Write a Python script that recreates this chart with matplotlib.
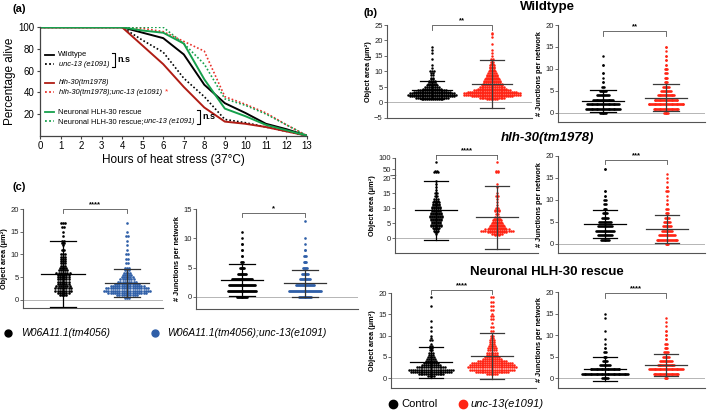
import numpy as np
import matplotlib.pyplot as plt
from matplotlib.lines import Line2D

# ---- (a) survival during heat stress ----
hours = [0, 1, 2, 3, 4, 5, 6, 7, 8, 9, 10, 11, 12, 13]
surv_wt = [100, 100, 100, 100, 100, 95, 90, 75, 47, 30, 21, 11, 6, 0]
surv_unc13 = [100, 100, 100, 100, 100, 88, 77, 53, 36, 15, 12, 8, 4, 0]
surv_hlh = [100, 100, 100, 100, 100, 83, 66, 45, 26, 13, 11, 8, 4, 0]
surv_hlh_unc13 = [100, 100, 100, 100, 100, 99, 96, 87, 78, 36, 29, 21, 10, 0]
surv_rescue = [100, 100, 100, 100, 100, 97, 95, 85, 52, 25, 18, 10, 5, 0]
surv_rescue_unc13 = [100, 100, 100, 100, 100, 100, 100, 85, 66, 34, 28, 20, 10, 0]

# ---- (b)/(c) object area: values and how many objects at each ----
wt_area_ctrl_v = [1.0, 1.5, 2.0, 2.5, 3.0, 3.5, 4.0, 4.5, 5.0, 5.5, 6.0, 6.5, 7.0, 7.5, 8.0, 9.0, 9.5, 10.0, 11.0, 12.0, 14.0, 16.0, 17.0, 18.0]
wt_area_ctrl_n = [12, 18, 24, 26, 24, 20, 16, 10, 8, 6, 5, 4, 4, 2, 2, 2, 2, 3, 1, 1, 1, 1, 1, 1]
wt_area_unc_v = [1.0, 1.5, 2.0, 2.5, 3.0, 3.5, 4.0, 4.5, 5.0, 5.5, 6.0, 6.5, 7.0, 7.5, 8.0, 8.5, 9.0, 9.5, 10.0, 10.5, 11.0, 11.5, 12.0, 12.5, 13.0, 14.0, 15.0, 16.0, 17.0, 19.0, 21.0, 22.0, 22.5]
wt_area_unc_n = [6, 14, 22, 30, 30, 26, 20, 16, 14, 12, 11, 9, 9, 8, 7, 6, 6, 5, 4, 3, 3, 3, 3, 2, 2, 2, 1, 1, 1, 1, 1, 1, 1]

hlh_area_ctrl_v = [1.5, 2, 2.5, 3, 3.5, 4, 4.5, 5, 5.5, 6, 6.5, 7, 7.5, 8, 8.5, 9, 9.5, 10, 10.5, 11, 11.5, 12, 12.5, 13, 14, 15, 16, 17, 18, 19, 35, 40, 80]
hlh_area_ctrl_n = [1, 2, 3, 3, 4, 6, 6, 5, 5, 6, 6, 7, 7, 6, 6, 5, 5, 5, 5, 4, 4, 4, 3, 3, 2, 2, 1, 1, 1, 1, 3, 2, 1]
hlh_area_unc_v = [1, 1.5, 2, 2.5, 3, 3.5, 4, 4.5, 5, 5.5, 6, 6.5, 7, 8, 9, 9.5, 10, 11, 12, 13, 14, 15, 17, 18, 35, 40, 80]
hlh_area_unc_n = [3, 6, 10, 16, 12, 9, 8, 7, 6, 5, 5, 4, 3, 2, 3, 3, 2, 1, 1, 1, 2, 1, 1, 1, 2, 2, 1]

res_area_ctrl_v = [0.5, 1, 1.5, 2, 2.5, 3, 3.5, 4, 4.5, 5, 5.5, 6, 6.5, 7, 7.5, 8, 9, 9.5, 10, 11, 12, 13.5, 17, 19]
res_area_ctrl_n = [4, 14, 22, 24, 16, 10, 8, 6, 5, 4, 3, 3, 2, 2, 2, 1, 2, 1, 1, 1, 1, 1, 1, 1]
res_area_unc_v = [1, 1.5, 2, 2.5, 3, 3.5, 4, 4.5, 5, 5.5, 6, 6.5, 7, 7.5, 8, 8.5, 9, 9.5, 10, 11, 12, 13, 14, 14.5, 15, 16, 17, 18, 19]
res_area_unc_n = [6, 18, 24, 26, 24, 22, 16, 10, 8, 6, 6, 5, 5, 4, 3, 3, 3, 2, 2, 2, 2, 1, 2, 2, 1, 2, 2, 2, 2]

w06_area_ctrl_v = [1, 1.5, 2, 2.5, 3, 3.5, 4, 4.5, 5, 5.5, 6, 6.5, 7, 7.5, 8, 8.5, 9, 9.5, 10, 11, 12, 12.5, 13, 14, 15, 16, 17]
w06_area_ctrl_n = [4, 6, 8, 8, 7, 6, 6, 6, 6, 6, 7, 5, 4, 3, 3, 3, 3, 3, 3, 2, 1, 2, 2, 1, 1, 2, 3]
w06_area_unc_v = [0.5, 1, 1.5, 2, 2.5, 3, 3.5, 4, 4.5, 5, 5.5, 6, 6.5, 7, 8, 9, 10, 11, 12, 13, 14, 15, 17]
w06_area_unc_n = [3, 10, 18, 22, 20, 16, 12, 9, 7, 6, 5, 4, 3, 3, 2, 2, 2, 1, 1, 1, 2, 1, 1]

# ---- junctions per network: counts for 0, 1, 2, ... junctions ----
wt_junc_ctrl = [8, 40, 38, 24, 14, 8, 3, 2, 1, 2, 0, 2, 0, 1]
wt_junc_unc = [6, 30, 42, 28, 20, 12, 8, 4, 4, 3, 4, 2, 2, 2, 1, 2]
hlh_junc_ctrl = [0, 10, 16, 20, 16, 14, 8, 6, 4, 3, 3, 2, 2, 0, 0, 0, 0, 2]
hlh_junc_unc = [4, 24, 18, 12, 10, 8, 5, 4, 3, 2, 1, 1, 3, 2, 1, 1, 1]
res_junc_ctrl = [8, 55, 35, 12, 6, 4, 3, 2, 1, 1, 0, 1, 0, 0, 1, 1]
res_junc_unc = [4, 30, 40, 20, 14, 8, 5, 4, 3, 2, 2, 2, 1, 1, 1]
w06_junc_ctrl = [12, 30, 28, 22, 10, 6, 3, 2, 2, 2, 1, 1]
w06_junc_unc = [14, 34, 20, 12, 8, 5, 4, 3, 2, 1, 1, 0, 0, 1]

# mean and SD (control, mutant)
wt_area_mean, wt_area_sd = [4.0, 6.0], [2.9, 7.7]
wt_junc_mean, wt_junc_sd = [2.7, 3.5], [2.5, 3.0]
hlh_area_mean, hlh_area_sd = [9.2, 6.9], [9.8, 10.5]
hlh_junc_mean, hlh_junc_sd = [4.5, 3.4], [3.2, 3.2]
res_area_mean, res_area_sd = [3.7, 5.2], [3.6, 5.4]
res_junc_mean, res_junc_sd = [2.2, 3.0], [2.8, 2.5]
w06_area_mean, w06_area_sd = [5.7, 3.7], [7.3, 3.1]
w06_junc_mean, w06_junc_sd = [2.9, 2.3], [2.75, 2.3]

RED = '#ff2414'
BLUE = '#2f5fa8'

W, H = 709, 411
plt.rcParams['font.family'] = 'Liberation Sans'
fig = plt.figure(figsize=(7.09, 4.11), dpi=100)


def add_ax(l, t, r, b):
    return fig.add_axes([l / W, 1 - b / H, (r - l) / W, (b - t) / H])


def ftext(x, y, s, **kw):
    return fig.text(x / W, 1 - y / H, s, **kw)


def fline(xs, ys, **kw):
    fig.add_artist(Line2D([x / W for x in xs], [1 - y / H for y in ys],
                          transform=fig.transFigure, **kw))


# ================= (a) =================
ax = add_ax(40, 27.3, 307, 135.7)
dot = (0, (1, 1.3))
ax.plot(hours, surv_wt, color='black', lw=1.4)
ax.plot(hours, surv_unc13, color='black', lw=1.2, ls=dot)
ax.plot(hours, surv_hlh, color='#b01c14', lw=1.4)
ax.plot(hours, surv_hlh_unc13, color='#e8322a', lw=1.2, ls=dot)
ax.plot(hours, surv_rescue, color='#16a04c', lw=1.4)
ax.plot(hours, surv_rescue_unc13, color='#16a04c', lw=1.2, ls=dot)
ax.set_xlim(0, 13)
ax.set_ylim(0, 100)
ax.set_xticks(range(14))
ax.set_yticks([20, 40, 60, 80, 100])
for s in ['top', 'right']:
    ax.spines[s].set_visible(False)
for s in ['left', 'bottom']:
    ax.spines[s].set_color('#444444')
    ax.spines[s].set_linewidth(0.9)
ax.tick_params(labelsize=7, length=2.5, width=0.8, color='#444444', pad=1.5)
ax.set_xlabel('Hours of heat stress (37°C)', fontsize=8.5, labelpad=2)
ax.set_ylabel('Percentage alive', fontsize=8.5, labelpad=2)

leg = [(55, 'black', '-', [('Wildtype', 'normal')]),
       (64, 'black', dot, [('unc-13 (e1091)', 'italic')]),
       (83, '#b01c14', '-', [('hlh-30(tm1978)', 'italic')]),
       (92.5, '#e8322a', dot, [('hlh-30(tm1978);unc-13 (e1091)', 'italic')]),
       (112.5, '#16a04c', '-', [('Neuronal HLH-30 rescue', 'normal')]),
       (121.5, '#16a04c', dot, [('Neuronal HLH-30 rescue;', 'normal'), ('unc-13 (e1091)', 'italic')])]
renderer = fig.canvas.get_renderer()
for y, c, ls, parts in leg:
    fline([45, 54], [y, y], color=c, lw=1.3, ls=ls)
    x = 58 if parts[0][1] == 'normal' else 59
    for s, st in parts:
        t = ftext(x, y, s, fontsize=5.4, style=st, va='center', ha='left')
        bb = t.get_window_extent(renderer)
        x += bb.width
ftext(165, 91.5, '*', color=RED, fontsize=6, va='center')
for xb, y0, y1 in [(115, 53, 67), (200, 110.5, 124)]:
    fline([xb - 3, xb, xb, xb - 3], [y0, y0, y1, y1], color='black', lw=0.8)
    ftext(xb + 2.5, (y0 + y1) / 2 - 1, 'n.s', fontsize=6.5, weight='bold', va='center')


# ================= dot plots =================
def fwd(y):
    y = np.asarray(y, float)
    return np.where(y <= 20, y, 20.8 + (y - 20) * 0.074)


def inv(t):
    t = np.asarray(t, float)
    return np.where(t <= 20, t, np.where(t < 20.8, 20.0, 20 + (t - 20.8) / 0.074))


def dot_panel(box, centers, ylim, yticks, ylabel, groups, means, sds, colors,
              bar_colors, stars, sig_y, sig_tick, dx_px, size=3.2, broken=False,
              label_x=None):
    l, t, r, b = box
    c0, c1 = centers
    sep = c1 - c0
    ax = add_ax(l, t, r, b)
    if broken:
        ax.set_yscale('function', functions=(fwd, inv))
    ax.set_xlim((l - c0) / sep, (r - c0) / sep)
    ax.set_ylim(*ylim)
    ax.axhline(0, color='#b5b5b5', lw=0.7, zorder=0)
    dx = dx_px / sep
    for i, (vals, counts) in enumerate(groups):
        for v, n in zip(vals, counts):
            if n == 0:
                continue
            offs = (np.arange(n) - (n - 1) / 2) * dx
            ax.scatter(i + offs, [v] * n, s=size, color=colors[i], lw=0, zorder=2)
    for i in range(2):
        m, sd = means[i], sds[i]
        bc = bar_colors[i]
        ax.plot([i - 0.34, i + 0.34], [m, m], color=bc, lw=0.9, zorder=3)
        ax.plot([i, i], [m - sd, m + sd], color=bc, lw=0.9, zorder=3)
        for e in (m - sd, m + sd):
            ax.plot([i - 0.2, i + 0.2], [e, e], color=bc, lw=0.9, zorder=3)
    ax.plot([0, 0, 1, 1], [sig_y - sig_tick, sig_y, sig_y, sig_y - sig_tick],
            color='#555555', lw=0.6, clip_on=False)
    ax.annotate(stars, (0.5, sig_y), xytext=(0, 0.5), textcoords='offset points',
                ha='center', va='bottom', fontsize=5.5, weight='bold',
                annotation_clip=False)
    ax.set_yticks(yticks)
    ax.set_xticks([])
    for s in ['top', 'right']:
        ax.spines[s].set_visible(False)
    for s in ['left', 'bottom']:
        ax.spines[s].set_color('#555555')
        ax.spines[s].set_linewidth(0.8)
    ax.tick_params(axis='y', labelsize=5.5, length=2, width=0.6, color='#555555',
                   pad=1.0, labelcolor='#222222')
    ax.set_ylabel(ylabel, fontsize=5.3, weight='bold', labelpad=1.5)
    if label_x is not None:
        ax.yaxis.set_label_coords((label_x - l) / (r - l), 0.5)
    ax.minorticks_off()
    return ax


AREA = 'Object area (μm²)'
JUNC = '# Junctions per network'


def jgroup(counts):
    return (list(range(len(counts))), counts)


# Wildtype
dot_panel((387, 25, 532, 118), (432, 492), (-5, 25), [-5, 0, 5, 10, 15, 20, 25], AREA,
          [(wt_area_ctrl_v, wt_area_ctrl_n), (wt_area_unc_v, wt_area_unc_n)],
          wt_area_mean, wt_area_sd, ['black', RED], ['black', '#3a3a3a'],
          '**', 24.9, 1.4, 1.9)
dot_panel((558, 25, 705, 122), (603, 666), (-2.05, 20), [0, 5, 10, 15, 20], JUNC,
          [jgroup(wt_junc_ctrl), jgroup(wt_junc_unc)],
          wt_junc_mean, wt_junc_sd, ['black', RED], ['black', '#3a3a3a'],
          '**', 18.6, 1.0, 0.85)
# hlh-30
axh = dot_panel((395, 158, 538, 253), (436, 497), (-5, 100), [0, 5, 10, 15, 20, 50, 100], AREA,
                [(hlh_area_ctrl_v, hlh_area_ctrl_n), (hlh_area_unc_v, hlh_area_unc_n)],
                hlh_area_mean, hlh_area_sd, ['black', RED], ['black', '#3a3a3a'],
                '****', 115, 0, 2.1, broken=True)
axh.plot([0, 0], [115, 95], color='#555555', lw=0.6, clip_on=False)
axh.plot([1, 1], [115, 95], color='#555555', lw=0.6, clip_on=False)
axh.plot([-0.74, -0.66], [20.2, 21.5], color='#555555', lw=0.7, clip_on=False)
dot_panel((558, 156, 705, 253), (605, 667), (-2.05, 20), [0, 5, 10, 15, 20], JUNC,
          [jgroup(hlh_junc_ctrl), jgroup(hlh_junc_unc)],
          hlh_junc_mean, hlh_junc_sd, ['black', RED], ['black', '#3a3a3a'],
          '***', 19.2, 1.0, 0.9)
# rescue
dot_panel((391, 293, 536, 388), (431, 492), (-2.35, 20), [0, 5, 10, 15, 20], AREA,
          [(res_area_ctrl_v, res_area_ctrl_n), (res_area_unc_v, res_area_unc_n)],
          res_area_mean, res_area_sd, ['black', RED], ['black', '#3a3a3a'],
          '****', 20.7, 1.0, 1.9)
dot_panel((558, 292, 705, 388), (605, 666), (-2.3, 20), [0, 5, 10, 15, 20], JUNC,
          [jgroup(res_junc_ctrl), jgroup(res_junc_unc)],
          res_junc_mean, res_junc_sd, ['black', RED], ['black', '#3a3a3a'],
          '****', 19.7, 1.0, 0.85)
# (c)
dot_panel((23, 209, 163, 308), (63, 127), (-1.8, 20), [0, 5, 10, 15, 20], AREA,
          [(w06_area_ctrl_v, w06_area_ctrl_n), (w06_area_unc_v, w06_area_unc_n)],
          w06_area_mean, w06_area_sd, ['black', BLUE], ['black', '#333333'],
          '****', 20.1, 0.9, 2.2, size=3.6, label_x=8.3)
dot_panel((196, 209, 358, 309), (242, 305), (-2.05, 15), [0, 5, 10, 15], JUNC,
          [jgroup(w06_junc_ctrl), jgroup(w06_junc_unc)],
          w06_junc_mean, w06_junc_sd, ['black', BLUE], ['black', '#333333'],
          '*', 14.3, 0.7, 0.95, size=3.6)

# titles and panel labels
ftext(12, 9, '(a)', fontsize=8, weight='bold', va='center')
ftext(364, 13, '(b)', fontsize=8, weight='bold', va='center')
ftext(12, 187, '(c)', fontsize=8, weight='bold', va='center')
ftext(547, 7, 'Wildtype', fontsize=9.5, weight='bold', ha='center', va='center')
ftext(547, 138, 'hlh-30(tm1978)', fontsize=9.5, weight='bold', style='italic',
      ha='center', va='center')
ftext(547, 272, 'Neuronal HLH-30 rescue', fontsize=9.5, weight='bold',
      ha='center', va='center')

# bottom legends
fline([393], [404], marker='o', ms=6, color='black', lw=0)
ftext(401, 404, 'Control', fontsize=8, va='center')
fline([463], [404], marker='o', ms=6, color=RED, lw=0)
ftext(471, 404, 'unc-13(e1091)', fontsize=8, style='italic', va='center')
fline([8], [333], marker='o', ms=5, color='black', lw=0)
ftext(21, 333, 'W06A11.1(tm4056)', fontsize=7.5, style='italic', va='center')
fline([155], [333], marker='o', ms=5, color=BLUE, lw=0)
ftext(167, 333, 'W06A11.1(tm4056);unc-13(e1091)', fontsize=7.5, style='italic', va='center')

fig.savefig('out.png', dpi=100)
